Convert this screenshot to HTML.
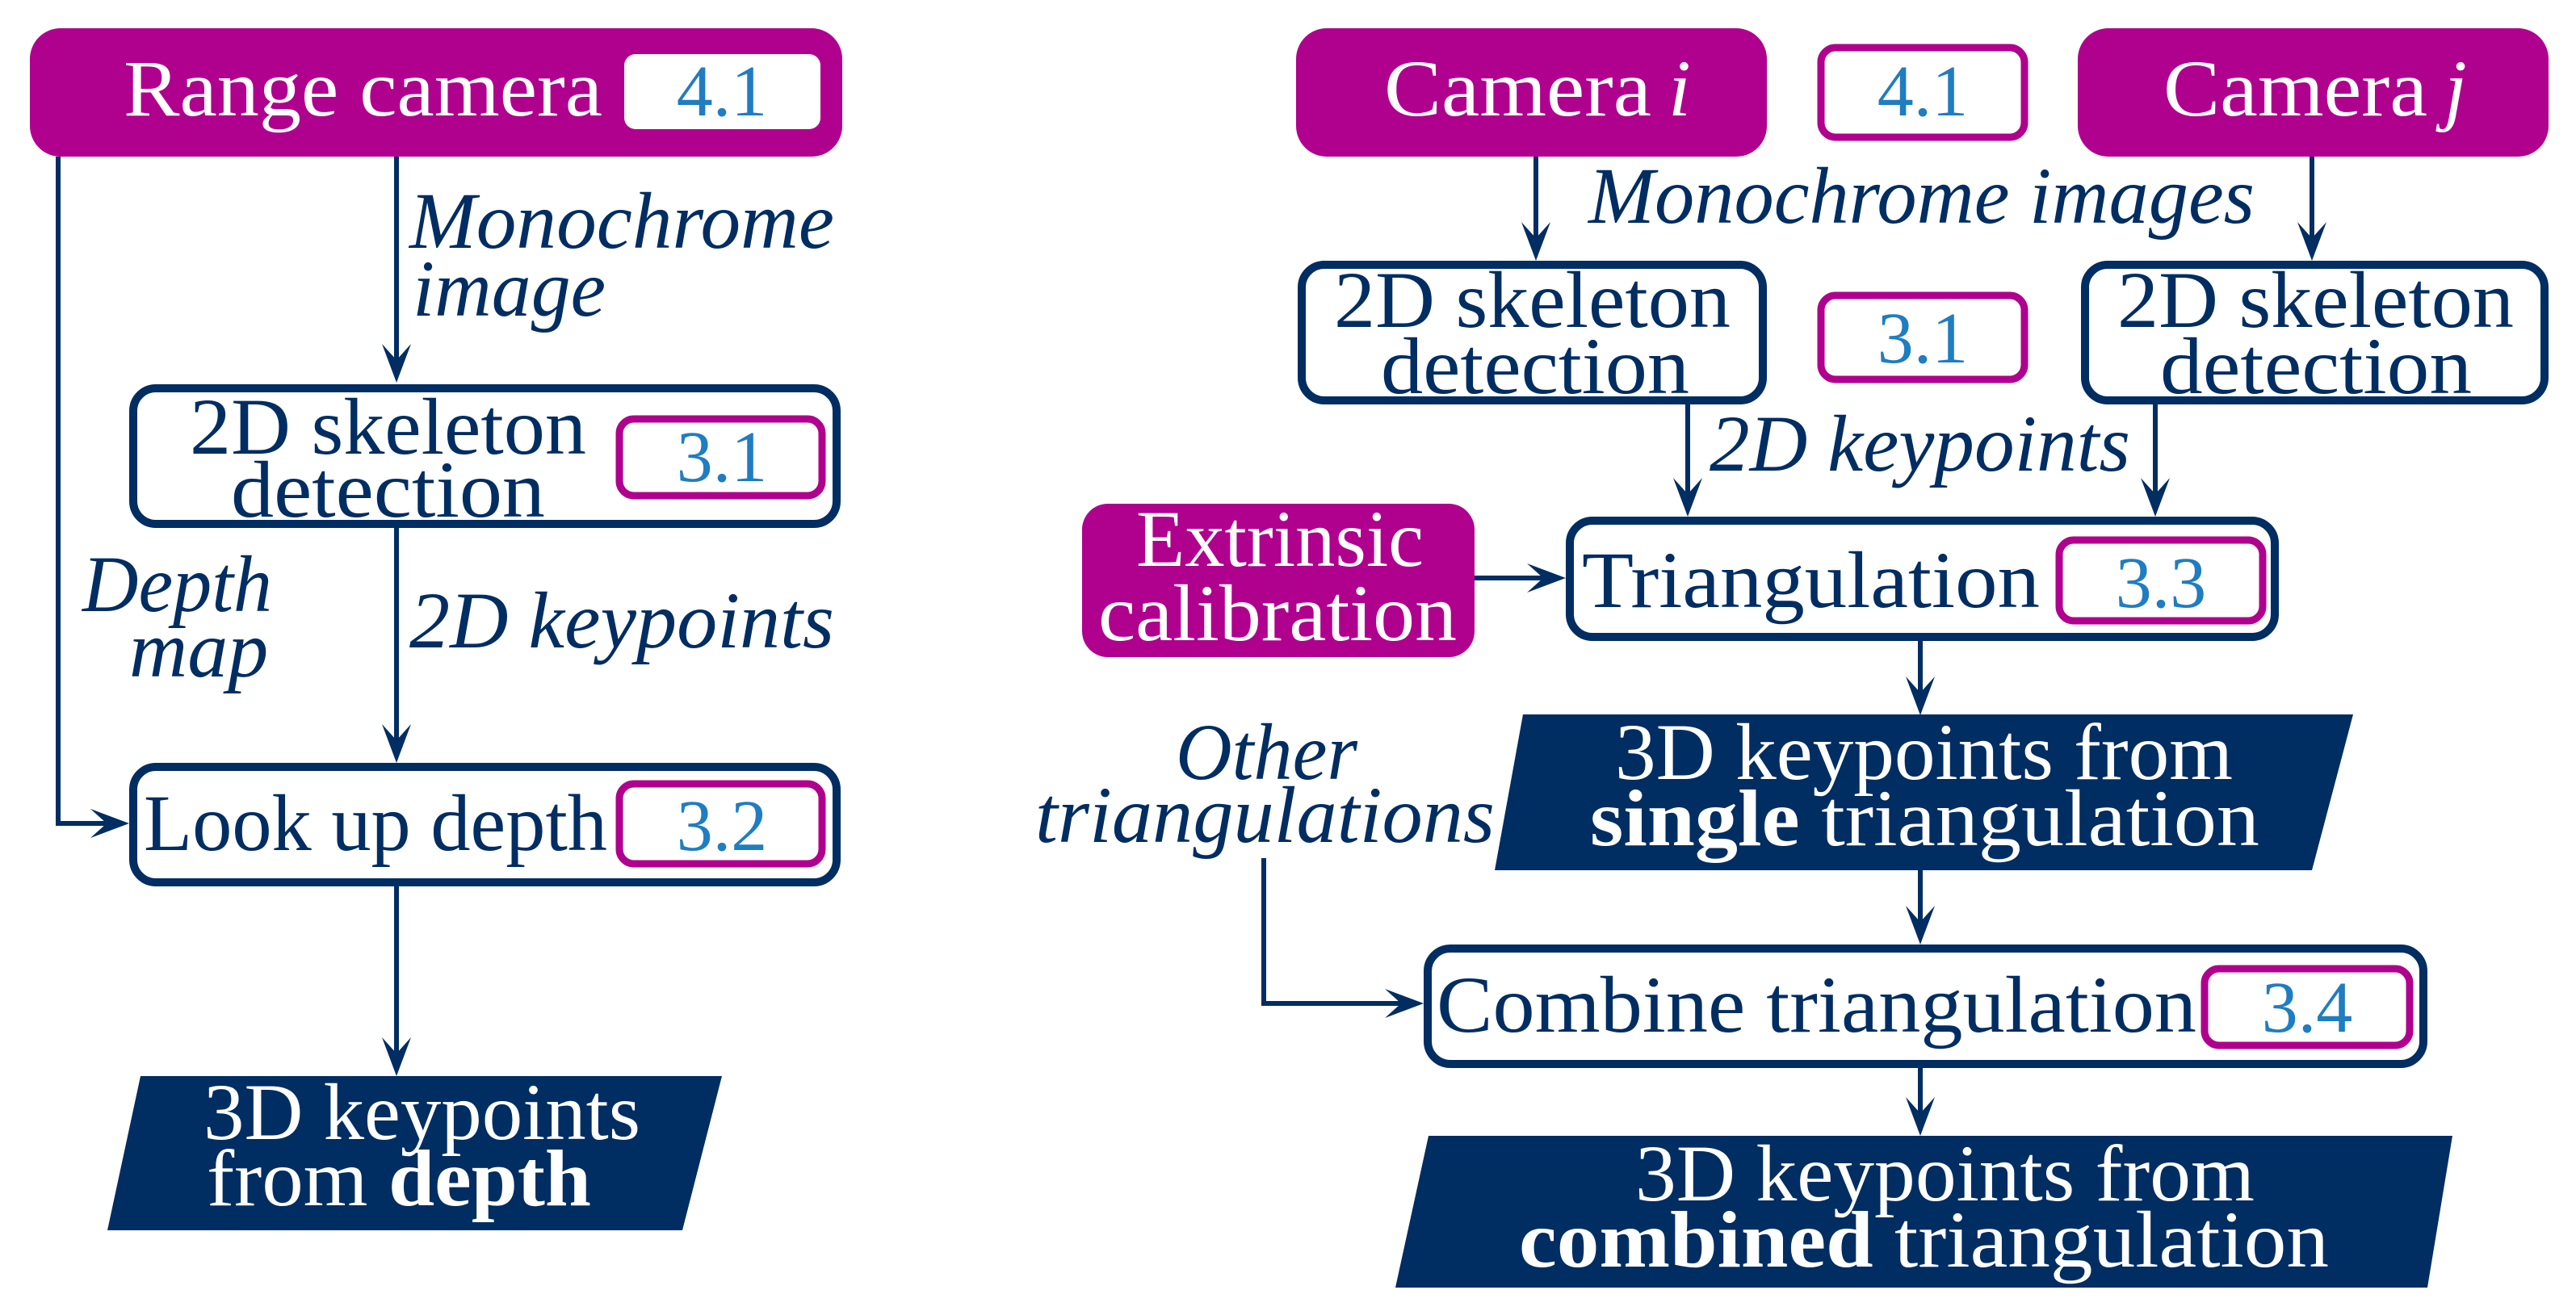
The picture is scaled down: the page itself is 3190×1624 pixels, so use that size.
<!DOCTYPE html>
<html><head><meta charset="utf-8"><style>html,body{margin:0;padding:0;background:#fff}svg{display:block}</style></head>
<body>
<svg width="3190" height="1624" viewBox="0 0 3190 1624" xmlns="http://www.w3.org/2000/svg" font-family="Liberation Serif, serif">
<g fill="none" stroke="#002d62" stroke-width="6">
<polyline points="72,194 72,1020 150,1020"/>
<line x1="491" y1="194" x2="491" y2="466"/>
<line x1="491" y1="654" x2="491" y2="936"/>
<line x1="491" y1="1098" x2="491" y2="1325"/>
<line x1="1902" y1="194" x2="1902" y2="314"/>
<line x1="2863" y1="194" x2="2863" y2="314"/>
<line x1="2090" y1="501" x2="2090" y2="632"/>
<line x1="2669" y1="501" x2="2669" y2="632"/>
<line x1="1826" y1="716" x2="1930" y2="716"/>
<line x1="2378" y1="794" x2="2378" y2="878"/>
<line x1="2378" y1="1078" x2="2378" y2="1160"/>
<polyline points="1565,1063 1565,1243 1754,1243"/>
<line x1="2378" y1="1323" x2="2378" y2="1400"/>
</g>
<g fill="#002d62">
<path d="M491,474 l-18,-48 l18,20 l18,-20z"/>
<path d="M491,945 l-18,-48 l18,20 l18,-20z"/>
<path d="M491,1333 l-18,-48 l18,20 l18,-20z"/>
<path d="M1902,323 l-18,-48 l18,20 l18,-20z"/>
<path d="M2863,323 l-18,-48 l18,20 l18,-20z"/>
<path d="M2090,640 l-18,-48 l18,20 l18,-20z"/>
<path d="M2669,640 l-18,-48 l18,20 l18,-20z"/>
<path d="M2378,886 l-18,-48 l18,20 l18,-20z"/>
<path d="M2378,1170 l-18,-48 l18,20 l18,-20z"/>
<path d="M2378,1407 l-18,-48 l18,20 l18,-20z"/>
<path d="M160,1020 l-48,-18 l20,18 l-20,18z"/>
<path d="M1939,716 l-48,-18 l20,18 l-20,18z"/>
<path d="M1763,1243 l-48,-18 l20,18 l-20,18z"/>
</g>

<g fill="#b0008e">
<rect x="37" y="35" width="1006" height="159" rx="38"/>
<rect x="1605" y="35" width="583" height="159" rx="38"/>
<rect x="2573" y="35" width="583" height="159" rx="38"/>
<rect x="1340" y="624" width="486" height="190" rx="32"/>
</g>
<rect x="773" y="67" width="243" height="93" rx="14" fill="#fff"/>

<g fill="#fff" stroke="#002d62" stroke-width="10">
<rect x="165" y="481" width="871" height="168" rx="28"/>
<rect x="165" y="950" width="871" height="143" rx="28"/>
<rect x="1612" y="328" width="571" height="168" rx="28"/>
<rect x="2582" y="328" width="569" height="168" rx="28"/>
<rect x="1944" y="645" width="873" height="144" rx="28"/>
<rect x="1768" y="1175" width="1233" height="143" rx="28"/>
</g>
<g fill="#fff" stroke="#b0008e" stroke-width="9">
<rect x="767" y="519" width="251" height="95" rx="18"/>
<rect x="767" y="971" width="251" height="99" rx="18"/>
<rect x="2255" y="59" width="252" height="111" rx="18"/>
<rect x="2255" y="366" width="252" height="104" rx="18"/>
<rect x="2550" y="669" width="252" height="100" rx="18"/>
<rect x="2730" y="1200" width="254" height="95" rx="18"/>
</g>

<g fill="#002d62">
<polygon points="174,1333 894,1333 845,1524 133,1524"/>
<polygon points="1886,885 2914,885 2863,1078 1851,1078"/>
<polygon points="1769,1407 3037,1407 3006,1595 1728,1595"/>
</g>

<g font-size="100">
<g fill="#fff">
<text x="153" y="143" textLength="593" lengthAdjust="spacingAndGlyphs">Range camera</text>
<text x="1714" y="143" textLength="331" lengthAdjust="spacingAndGlyphs">Camera</text>
<text x="2066" y="143" font-style="italic">i</text>
<text x="2679" y="143" textLength="327" lengthAdjust="spacingAndGlyphs">Camera</text>
<text x="3027" y="143" font-style="italic">j</text>
<text x="1407" y="701" textLength="356" lengthAdjust="spacingAndGlyphs">Extrinsic</text>
<text x="1360" y="793" textLength="444" lengthAdjust="spacingAndGlyphs">calibration</text>
<text x="252" y="1411" textLength="541" lengthAdjust="spacingAndGlyphs">3D keypoints</text>
<text x="256" y="1493" textLength="476" lengthAdjust="spacingAndGlyphs">from <tspan font-weight="bold">depth</tspan></text>
<text x="2000" y="965" textLength="765" lengthAdjust="spacingAndGlyphs">3D keypoints from</text>
<text x="1969" y="1047" textLength="829" lengthAdjust="spacingAndGlyphs"><tspan font-weight="bold">single</tspan> triangulation</text>
<text x="2025" y="1487" textLength="767" lengthAdjust="spacingAndGlyphs">3D keypoints from</text>
<text x="1881" y="1569" textLength="1003" lengthAdjust="spacingAndGlyphs"><tspan font-weight="bold">combined</tspan> triangulation</text>
</g>
<g fill="#002d62">
<text x="235" y="562" textLength="491" lengthAdjust="spacingAndGlyphs">2D skeleton</text>
<text x="286" y="640" textLength="389" lengthAdjust="spacingAndGlyphs">detection</text>
<text x="178" y="1053" textLength="574" lengthAdjust="spacingAndGlyphs">Look up depth</text>
<text x="1652" y="405" textLength="491" lengthAdjust="spacingAndGlyphs">2D skeleton</text>
<text x="1710" y="487" textLength="382" lengthAdjust="spacingAndGlyphs">detection</text>
<text x="2622" y="405" textLength="491" lengthAdjust="spacingAndGlyphs">2D skeleton</text>
<text x="2675" y="487" textLength="386" lengthAdjust="spacingAndGlyphs">detection</text>
<text x="1959" y="752" textLength="567" lengthAdjust="spacingAndGlyphs">Triangulation</text>
<text x="1779" y="1278" textLength="941" lengthAdjust="spacingAndGlyphs">Combine triangulation</text>
</g>
<g fill="#002d62" font-style="italic">
<text x="507" y="307" textLength="526" lengthAdjust="spacingAndGlyphs">Monochrome</text>
<text x="511" y="391" textLength="239" lengthAdjust="spacingAndGlyphs">image</text>
<text x="102" y="757" textLength="235" lengthAdjust="spacingAndGlyphs">Depth</text>
<text x="160" y="838">map</text>
<text x="507" y="802" textLength="526" lengthAdjust="spacingAndGlyphs">2D keypoints</text>
<text x="1967" y="276" textLength="825" lengthAdjust="spacingAndGlyphs">Monochrome images</text>
<text x="2117" y="583" textLength="521" lengthAdjust="spacingAndGlyphs">2D keypoints</text>
<text x="1456" y="965" textLength="225" lengthAdjust="spacingAndGlyphs">Other</text>
<text x="1282" y="1043" textLength="569" lengthAdjust="spacingAndGlyphs">triangulations</text>
</g>
<g fill="#1f7dc1" font-size="90" text-anchor="middle">
<text x="894" y="143">4.1</text>
<text x="894" y="596">3.1</text>
<text x="894" y="1053">3.2</text>
<text x="2381" y="143">4.1</text>
<text x="2381" y="449">3.1</text>
<text x="2676" y="752">3.3</text>
<text x="2857" y="1278">3.4</text>
</g>
</g>
</svg>
</body></html>
